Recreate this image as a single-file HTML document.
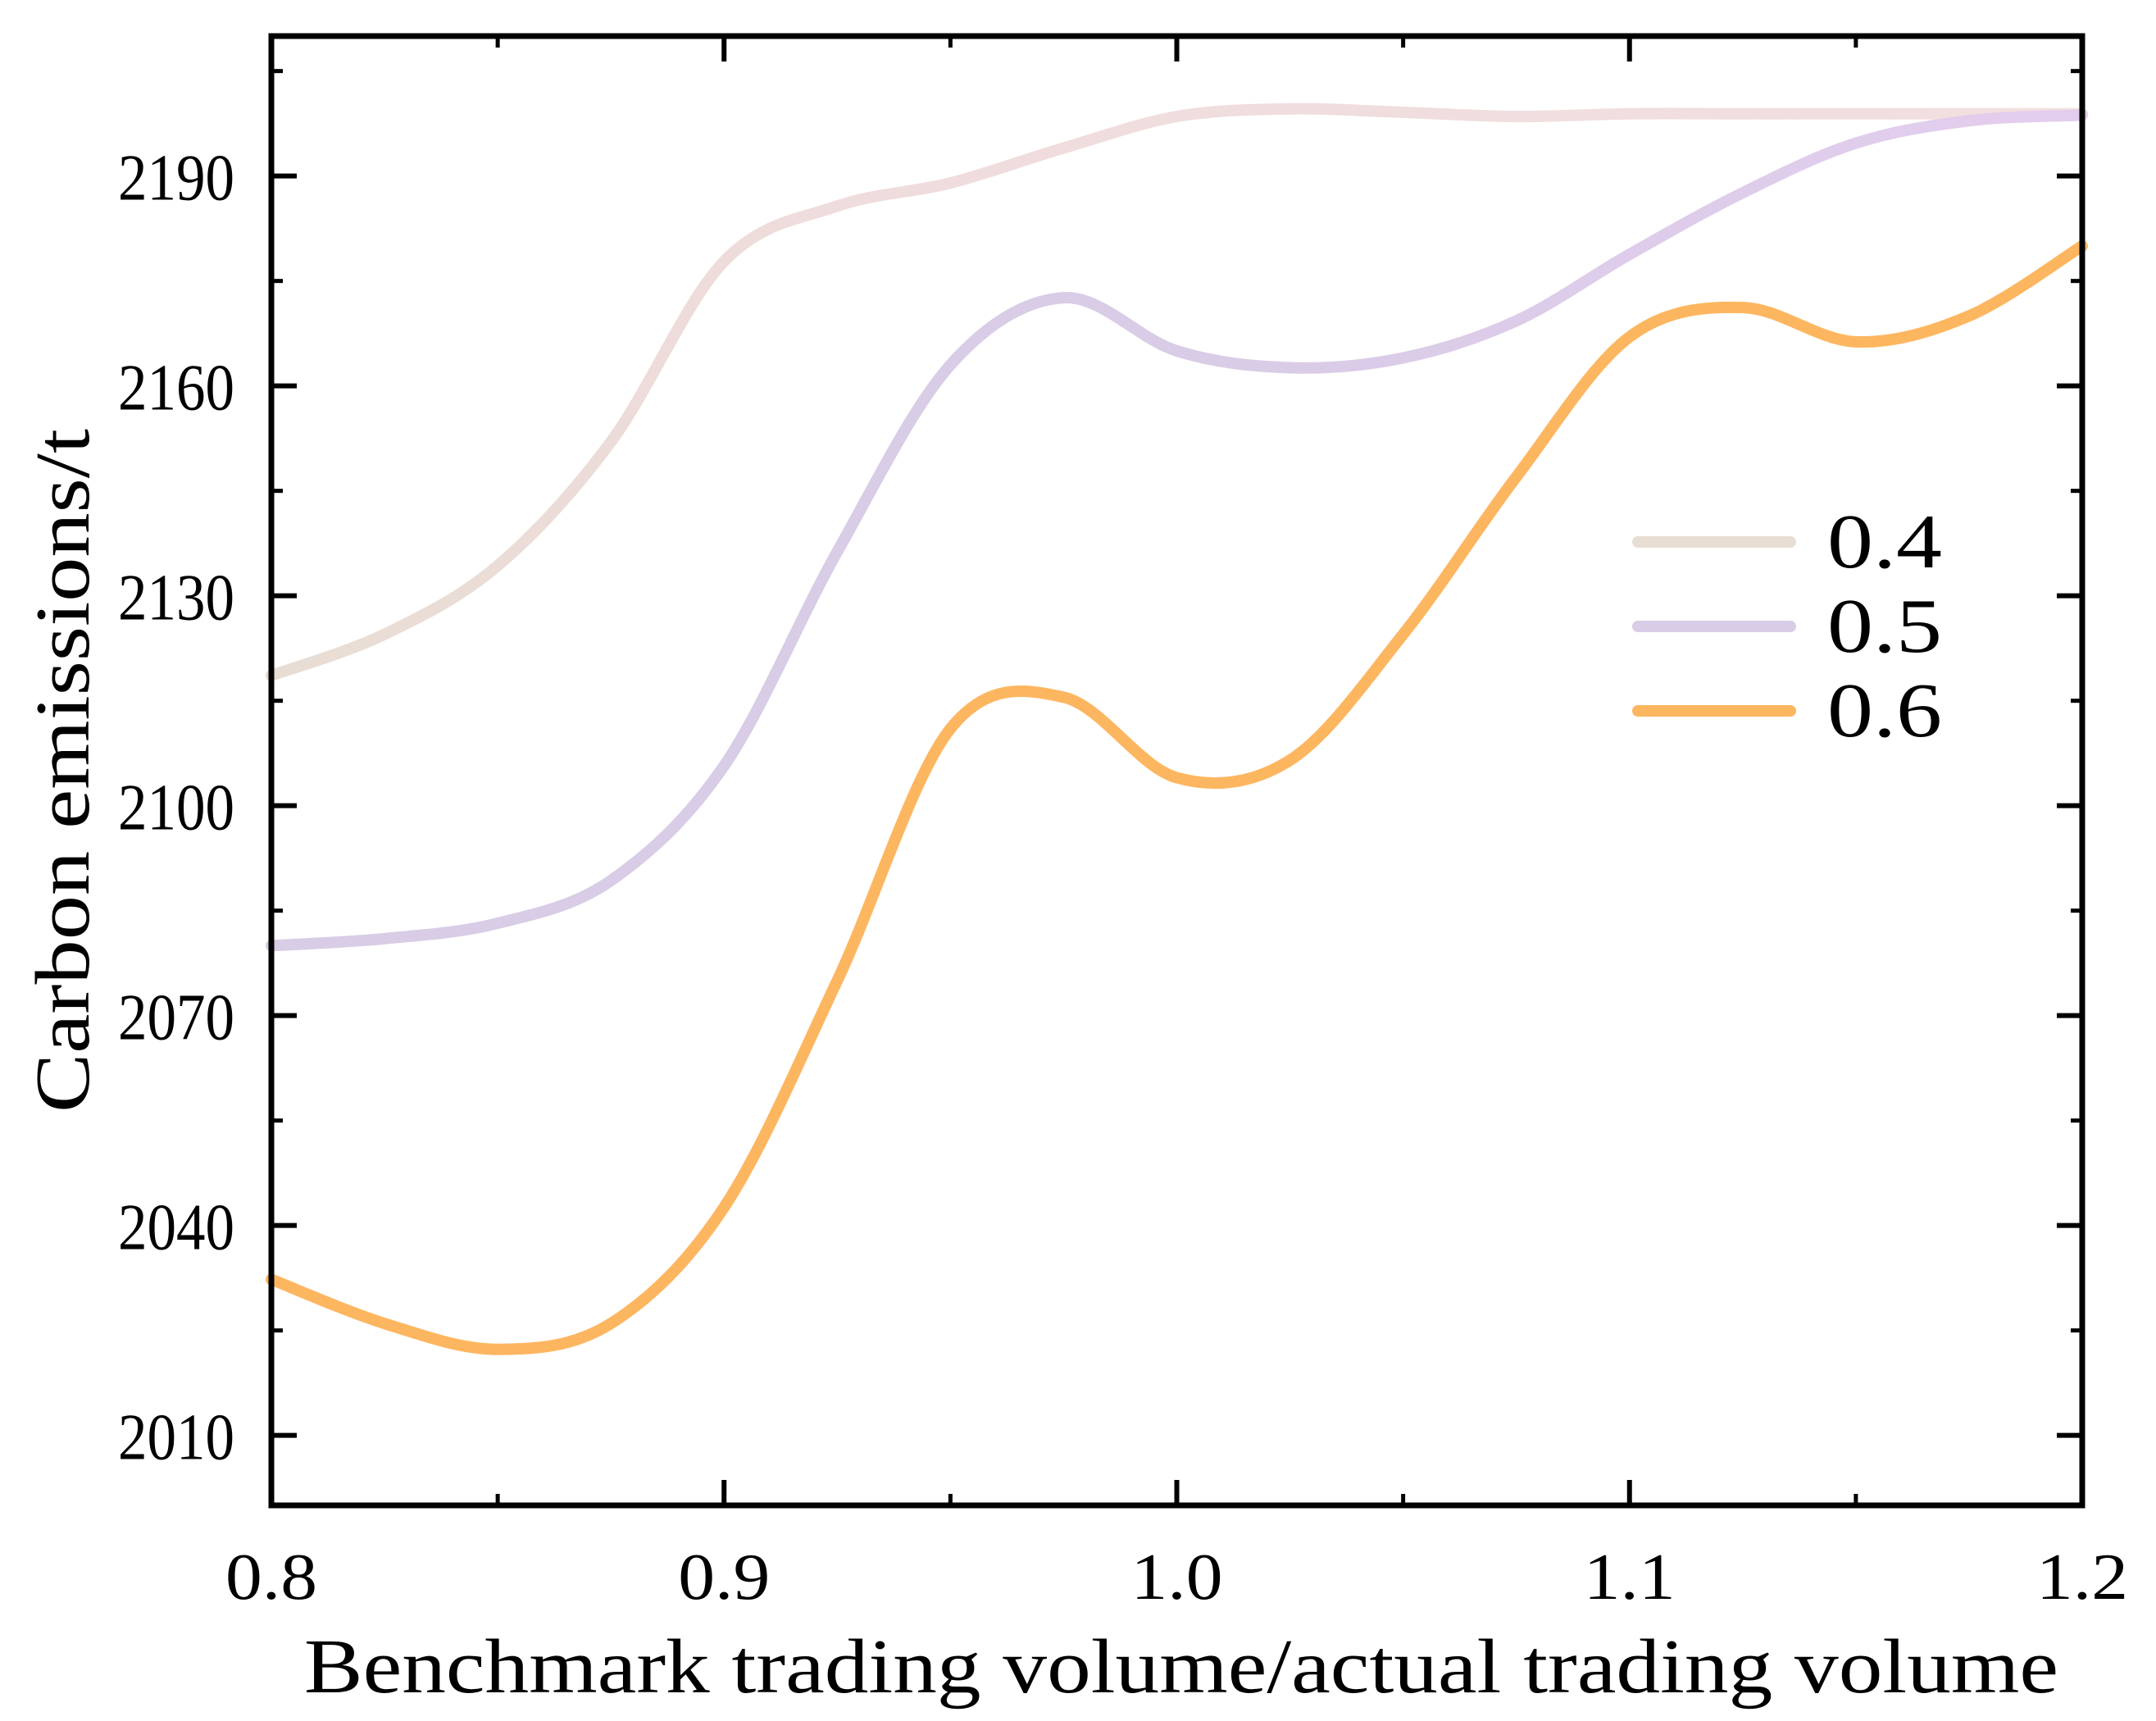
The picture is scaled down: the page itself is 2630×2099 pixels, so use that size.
<!DOCTYPE html>
<html><head><meta charset="utf-8">
<style>html,body{margin:0;padding:0;background:#fff}svg{display:block}text{font-family:"Liberation Serif",serif;fill:#000}</style>
</head><body>
<svg id="chart" width="2630" height="2099" viewBox="0 0 2630 2099" xmlns="http://www.w3.org/2000/svg">
<defs>
<linearGradient id="g04" x1="0" x2="1" y1="0" y2="0"><stop offset="0" stop-color="#e8ddd3"/><stop offset="0.3" stop-color="#efdcdc"/><stop offset="1" stop-color="#f2dfdf"/></linearGradient>
<linearGradient id="g05" x1="0" x2="1" y1="0" y2="0"><stop offset="0" stop-color="#d8cce6"/><stop offset="0.5" stop-color="#d8cce6"/><stop offset="1" stop-color="#e3cdee"/></linearGradient>
</defs>
<g id="plot"></g>
<g id="axes"></g>
</svg>
<script>
const xs = [0.80,0.825,0.85,0.875,0.90,0.925,0.95,0.975,1.00,1.025,1.05,1.075,1.10,1.125,1.15,1.175,1.20];
const s04 = [2118.6,2124.5,2134.3,2152,2177.8,2185.7,2189,2194,2198.5,2199.6,2199.1,2198.5,2198.9,2198.9,2198.9,2198.9,2198.9];
const s05 = [2080,2081,2083.2,2089.3,2105.7,2136.3,2163,2172.6,2165,2162.6,2164,2169.3,2178.8,2187.6,2194.7,2197.9,2198.7];
const s06 = [2032.3,2026,2022.3,2026,2042.6,2075,2111,2115.5,2104,2106.5,2124.5,2147,2167,2171.2,2166.3,2170,2180];
const seriesNames = ["0.4","0.5","0.6"];
const xTicks = [0.8,0.9,1.0,1.1,1.2];
const xTickLabels = ["0.8","0.9","1.0","1.1","1.2"];
const yTicks = [2010,2040,2070,2100,2130,2160,2190];

const L=331,R=2540,T=44,B=1836,X0=0.8,X1=1.2,Y0=2000,Y1=2210;
const NS="http://www.w3.org/2000/svg";
function sx(v){return L+(v-X0)/(X1-X0)*(R-L);}
function sy(v){return B-(v-Y0)/(Y1-Y0)*(B-T);}
function mk(tag,attrs,parent){const e=document.createElementNS(NS,tag);for(const k in attrs)e.setAttribute(k,attrs[k]);parent.appendChild(e);return e;}
const plot=document.getElementById('plot'),axes=document.getElementById('axes');

function pathFor(vals){
  const p=xs.map((x,i)=>[sx(x),sy(vals[i])]);
  let d="M"+p[0][0]+","+p[0][1];
  for(let i=0;i<p.length-1;i++){
    const p0=p[i-1]||p[i],p1=p[i],p2=p[i+1],p3=p[i+2]||p[i+1];
    const c1=[p1[0]+(p2[0]-p0[0])/6,p1[1]+(p2[1]-p0[1])/6];
    const c2=[p2[0]-(p3[0]-p1[0])/6,p2[1]-(p3[1]-p1[1])/6];
    d+=" C"+c1[0]+","+c1[1]+" "+c2[0]+","+c2[1]+" "+p2[0]+","+p2[1];
  }
  return d;
}
const data=[s04,s05,s06],strokes=["url(#g04)","url(#g05)","#fdb660"],legCols=["#e8ddd3","#d8cce6","#fdb660"];
data.forEach((vals,i)=>{
  const e=mk('path',{d:pathFor(vals),fill:'none',stroke:strokes[i],'stroke-width':14,'stroke-linecap':'round','stroke-linejoin':'round'},plot);
  
  
});

const fr=mk('rect',{x:L,y:T,width:R-L,height:B-T,fill:'none',stroke:'#000','stroke-width':7},axes);



yTicks.forEach(v=>{
  const y=sy(v);
  const a=mk('line',{x1:L,x2:L+31,y1:y,y2:y,stroke:'#000','stroke-width':6},axes);
  
  
  const b=mk('line',{x1:R,x2:R-31,y1:y,y2:y,stroke:'#000','stroke-width':6},axes);
  
  
  const m=sy(v+15);
  if(m>T+5){
    const c=mk('line',{x1:L,x2:L+14,y1:m,y2:m,stroke:'#000','stroke-width':5},axes);
    
    
    const d=mk('line',{x1:R,x2:R-14,y1:m,y2:m,stroke:'#000','stroke-width':5},axes);
    
    
  }
  const t=mk('text',{x:286,y:y+29,'text-anchor':'end','font-size':80,textLength:142,lengthAdjust:'spacingAndGlyphs'},axes);
  t.textContent=String(v);
  
  
});
xTicks.forEach((v,i)=>{
  const x=sx(v);
  const a=mk('line',{x1:x,x2:x,y1:B,y2:B-31,stroke:'#000','stroke-width':6},axes);
  
  
  const b=mk('line',{x1:x,x2:x,y1:T,y2:T+31,stroke:'#000','stroke-width':6},axes);
  
  
  if(i<xTicks.length-1){
    const m=sx(v+0.05);
    const c=mk('line',{x1:m,x2:m,y1:B,y2:B-14,stroke:'#000','stroke-width':5},axes);
    
    
    const d=mk('line',{x1:m,x2:m,y1:T,y2:T+14,stroke:'#000','stroke-width':5},axes);
    
    
  }
  const t=mk('text',{x:x,y:1950,'text-anchor':'middle','font-size':80,textLength:112,lengthAdjust:'spacingAndGlyphs'},axes);
  t.textContent=xTickLabels[i];
  
  
});
const xt=mk('text',{x:1441,y:2064,'text-anchor':'middle','font-size':94,textLength:2140,lengthAdjust:'spacingAndGlyphs'},axes);
xt.textContent="Benchmark trading volume/actual trading volume";


const yt=mk('text',{x:0,y:0,'text-anchor':'middle','font-size':94,textLength:834,lengthAdjust:'spacingAndGlyphs',transform:'translate(108,940) rotate(-90)'},axes);
yt.textContent="Carbon emissions/t";


const legY=[661,764,867];
seriesNames.forEach((n,i)=>{
  const g=mk('g',{},axes);
  
  
  mk('line',{x1:1998,x2:2184,y1:legY[i],y2:legY[i],stroke:legCols[i],'stroke-width':14,'stroke-linecap':'round'},g);
  const t=mk('text',{x:2229,y:legY[i]+31,'font-size':94,textLength:140,lengthAdjust:'spacingAndGlyphs'},g);
  t.textContent=n;
});
</script>
</body></html>
